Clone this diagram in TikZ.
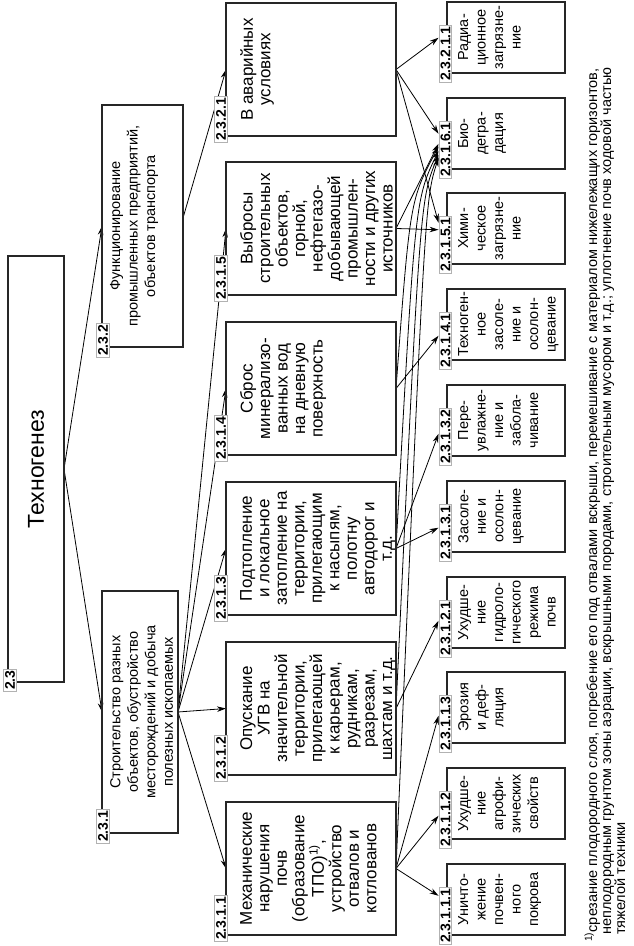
\documentclass[tikz,border=0pt]{standalone}
\usepackage{fontspec}
\setmainfont{Liberation Sans}
\usetikzlibrary{arrows.meta,calc}
\pgfdeclarelayer{bg}
\pgfsetlayers{bg,main}
\begin{document}
\begin{tikzpicture}[x=1pt,y=1pt,
  bx/.style={draw=black!85, line width=1.5pt, inner sep=0pt, outer sep=0pt, anchor=north west},
  tx/.style={align=center, inner sep=0pt, anchor=north, font=\fontsize{14.5}{17.5}\selectfont},
  txb/.style={tx, font=\fontsize{17}{17.5}\selectfont},
  lb/.style={draw=black!30, fill=white, line width=1pt, inner sep=1.5pt, anchor=west, font=\bfseries\fontsize{14}{14}\selectfont},
  ar/.style={line width=0.8pt, -{Stealth[length=9pt,width=5.5pt]}},
  fn/.style={inner sep=0pt, anchor=base west, font=\fontsize{14.5}{15}\selectfont}]
\begin{scope}[rotate=90, transform shape]
\useasboundingbox (0,0) rectangle (946,-634);
% level 0
\node[bx, minimum width=426, minimum height=56] (n23) at (264,-8) {};
\node[inner sep=0pt, font=\fontsize{23}{23}\selectfont] (t23) at (n23.center) {Техногенез};
% level 1
\node[bx, minimum width=242, minimum height=81] (n232) at (599,-102) {};
\node[bx, minimum width=242, minimum height=76] (n231) at (113,-102) {};
\node[tx] (t232) at ($(n232.north)+(0,-8)$) {Функционирование\\промышленных предприятий,\\объектов транспорта};
\node[tx] (t231) at ($(n231.north)+(0,-8)$) {Строительство разных\\объектов, обустройство\\месторождений и добыча\\полезных ископаемых};
% level 2
\foreach \n/\x in {2311/11, 2312/171, 2313/331, 2314/491, 2315/651, 2321/810}
  \node[bx, minimum width=133, minimum height=170] (n\n) at (\x,-226) {};
\node[txb] (t2321) at ($(n2321.north)+(0,-14)$) {В аварийных\\условиях};
\node[txb] (t2315) at ($(n2315.north)+(0,-14)$) {Выбросы\\строительных\\объектов,\\горной,\\нефтегазо-\\добывающей\\промышлен-\\ности и других\\источников};
\node[txb] (t2314) at ($(n2314.north)+(0,-14)$) {Сброс\\минерализо-\\ванных вод\\на дневную\\поверхность};
\node[txb] (t2313) at ($(n2313.north)+(0,-14)$) {Подтопление\\и локальное\\затопление на\\территории,\\прилегающим\\к насыпям,\\полотну\\автодорог и\\т.д.};
\node[txb] (t2312) at ($(n2312.north)+(0,-14)$) {Опускание\\УГВ на\\значительной\\территории,\\прилегающей\\к карьерам,\\рудникам,\\разрезам,\\шахтам и т.д.};
\node[txb] (t2311) at ($(n2311.north)+(0,-14)$) {Механические\\нарушения\\почв\\(образование\\ТПО)\textsuperscript{1)},\\устройство\\отвалов и\\котлованов};
% level 3
\foreach \n/\x in {23111/11, 23112/107, 23113/203, 23121/298, 23131/394, 23132/490, 23141/586, 23151/682, 23161/777, 232111/873}
  \node[bx, minimum width=71, minimum height=118] (n\n) at (\x,-447) {};
\node[tx] (t232111) at ($(n232111.north)+(0,-11)$) {Радиа-\\ционное\\загрязне-\\ние};
\node[tx] (t23161) at ($(n23161.north)+(0,-11)$) {Био-\\дегра-\\дация};
\node[tx] (t23151) at ($(n23151.north)+(0,-11)$) {Хими-\\ческое\\загрязне-\\ние};
\node[tx] (t23141) at ($(n23141.north)+(0,-11)$) {Техноген-\\ное\\засоле-\\ние и\\осолон-\\цевание};
\node[tx] (t23132) at ($(n23132.north)+(0,-11)$) {Пере-\\увлажне-\\ние и\\забола-\\чивание};
\node[tx] (t23131) at ($(n23131.north)+(0,-11)$) {Засоле-\\ние и\\осолон-\\цевание};
\node[tx] (t23121) at ($(n23121.north)+(0,-11)$) {Ухудше-\\ние\\гидроло-\\гического\\режима\\почв};
\node[tx] (t23113) at ($(n23113.north)+(0,-11)$) {Эрозия\\и деф-\\ляция};
\node[tx] (t23112) at ($(n23112.north)+(0,-11)$) {Ухудше-\\ние\\агрофи-\\зических\\свойств};
\node[tx] (t23111) at ($(n23111.north)+(0,-11)$) {Уничто-\\жение\\почвен-\\ного\\покрова};
% labels
\node[lb] (l23) at ($(n23.north west)+(-10,-2)$) {2.3};
\node[lb] (l232) at ($(n232.north west)+(-11,-1)$) {2.3.2};
\node[lb] (l231) at ($(n231.north west)+(-11,-1)$) {2.3.1};
\foreach \n/\t in {2311/2.3.1.1, 2312/2.3.1.2, 2313/2.3.1.3, 2314/2.3.1.4, 2315/2.3.1.5, 2321/2.3.2.1}
  \node[lb] (l\n) at ($(n\n.north west)+(-7,5)$) {\t};
\foreach \n/\t in {23111/2.3.1.1.1, 23112/2.3.1.1.2, 23113/2.3.1.1.3, 23121/2.3.1.2.1, 23131/2.3.1.3.1, 23132/2.3.1.3.2, 23141/2.3.1.4.1, 23151/2.3.1.5.1, 23161/2.3.1.6.1, 232111/2.3.2.1.1}
  \node[lb] (l\n) at ($(n\n.north west)+(-10,1.5)$) {\t};
% connectors
\begin{pgfonlayer}{bg}
\draw[ar] (n23.south) -- (n232.north);
\draw[ar] (n23.south) -- (n231.north);
\draw[ar] ($(n232.south)+(8,0)$) -- (n2321.north);
\foreach \n in {2311,2312,2313,2314,2315}
  \draw[ar] (n231.south) -- (n\n.north);
\draw[ar] (n2321.south) -- ($(l232111.north)+(16,0)$);
\draw[ar] (n2321.south) -- ($(l23161.north)+(16,0)$);
\draw[ar] (n2321.south) -- ($(l23151.north)+(22,0)$);
\draw[ar] (n2315.south) -- ($(l23151.north)+(15,0)$);
\draw[ar] (n2315.south) -- ($(l23161.north)+(6,0)$);
\draw[ar] (n2314.south) -- ($(l23141.north)+(5,0)$);
\draw[ar] (n2314.south) .. controls (746,-410) .. ($(l23161.north)+(3,0)$);
\draw[ar] (n2313.south) -- ($(l23131.north)+(5,0)$);
\draw[ar] (n2313.south) -- ($(l23132.north)+(3,0)$);
\draw[ar] (n2313.south) .. controls (746,-415) .. ($(l23161.north)+(-1,0)$);
\draw[ar] (n2312.south) -- ($(l23121.north)+(8,0)$);
\draw[ar] (n2312.south) .. controls (746,-420) .. ($(l23161.north)+(-5,0)$);
\draw[ar] (n2311.south) -- ($(l23111.north)+(20,0)$);
\draw[ar] (n2311.south) -- ($(l23112.north)+(4,0)$);
\draw[ar] (n2311.south) -- ($(l23113.north)+(8,0)$);
\draw[ar] (n2311.south) .. controls (746,-425) .. ($(l23161.north)+(-8,0)$);
\end{pgfonlayer}
% footnote
\node[fn] (f1) at (4,-597) {\textsuperscript{1)}срезание плодородного слоя, погребение его под отвалами вскрыши, перемешивание с материалом нижележащих горизонтов,};
\node[fn] (f2) at (11,-611) {неплодородным грунтом зоны аэрации, вскрышными породами, строительным мусором и т.д.; уплотнение почв ходовой частью};
\node[fn] (f3) at (11,-625) {тяжелой техники};
\end{scope}
\end{tikzpicture}
\end{document}
